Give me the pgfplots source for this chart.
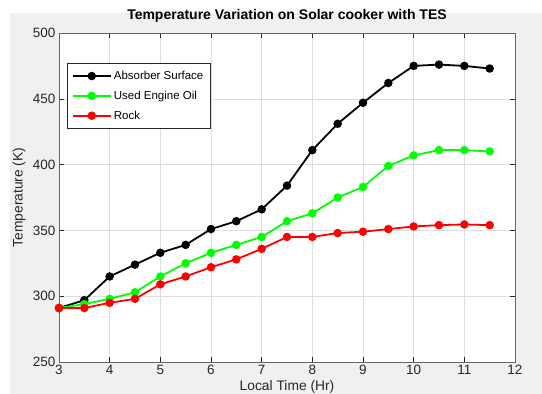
\documentclass[border=0pt]{standalone}
\usepackage{fontspec}
\setmainfont{Liberation Sans}
\usepackage{pgfplots}
\pgfplotsset{compat=1.18}
\definecolor{figbg}{RGB}{240,240,240}
\definecolor{axc}{RGB}{38,38,38}
\definecolor{gridc}{RGB}{222,222,222}
\definecolor{mgreen}{RGB}{0,255,0}
\definecolor{mred}{RGB}{255,0,0}
\begin{document}
\begin{tikzpicture}[x=1pt,y=1pt]
\clip (0,0) rectangle (542,394);
\fill[white] (0,0) rectangle (542,394);
\fill[figbg] (10,0) rectangle (542,381);
\begin{axis}[
  at={(59pt,32pt)}, anchor=south west,
  scale only axis, width=456pt, height=329pt,
  xmin=3, xmax=12, ymin=250, ymax=500,
  xtick={3,4,...,12}, ytick={250,300,...,500},
  axis background/.style={fill=white},
  grid=major, grid style={gridc, line width=0.5pt},
  axis line style={gray!80!black, line width=0.6pt},
  tick style={axc, line width=0.5pt},
  tick align=inside, major tick length=5pt,
  ticklabel style={font=\fontsize{13.5}{15}\selectfont, text=axc},
  /pgf/number format/assume math mode=true,
  title={\bfseries Temperature Variation on Solar cooker with TES},
  title style={at={(0.5,1.0243)}, anchor=base, inner sep=0pt, font=\fontsize{14}{16}\selectfont, text=black},
  xlabel={Local Time (Hr)},
  xlabel style={at={(0.5,-0.0866)}, anchor=base, inner sep=0pt, font=\fontsize{13.8}{16}\selectfont, text=axc},
  ylabel={Temperature (K)},
  ylabel style={at={(-0.0877,0.5)}, anchor=center, inner sep=0pt, font=\fontsize{13.8}{16}\selectfont, text=axc},
  legend style={at={(0.0175,0.9075)}, anchor=north west, draw=axc,
    font=\fontsize{11.5}{13}\selectfont, row sep=6pt, inner xsep=4.5pt, inner ysep=5.5pt, fill=white},
  legend cell align=left,
  legend image code/.code={%
    \draw[#1, line width=2.2pt, mark=none] (0pt,0pt) -- (38pt,0pt);
    \draw[#1, line width=1.8pt] plot coordinates {(19pt,0pt)};},
  every axis plot/.append style={line width=1.8pt, mark=*, mark size=3.3pt},
]
\addplot[black, mark options={fill=black}] coordinates {
(3,291) (3.5,297) (4,315) (4.5,324) (5,333) (5.5,339) (6,351) (6.5,357) (7,366) (7.5,384) (8,411) (8.5,431) (9,447) (9.5,462) (10,475) (10.5,476) (11,475) (11.5,473)};
\addlegendentry{Absorber Surface}
\addplot[mgreen, mark options={fill=mgreen}] coordinates {
(3,291) (3.5,294) (4,298) (4.5,303) (5,315) (5.5,325) (6,333) (6.5,339) (7,345) (7.5,357) (8,363) (8.5,375) (9,383) (9.5,399) (10,407) (10.5,411) (11,411) (11.5,410)};
\addlegendentry{Used Engine Oil}
\addplot[mred, mark options={fill=mred}] coordinates {
(3,291) (3.5,291) (4,295) (4.5,298) (5,309) (5.5,315) (6,322) (6.5,328) (7,336) (7.5,345) (8,345) (8.5,348) (9,349) (9.5,351) (10,353) (10.5,354) (11,354.5) (11.5,354)};
\addlegendentry{Rock}
\end{axis}
\end{tikzpicture}
\end{document}
